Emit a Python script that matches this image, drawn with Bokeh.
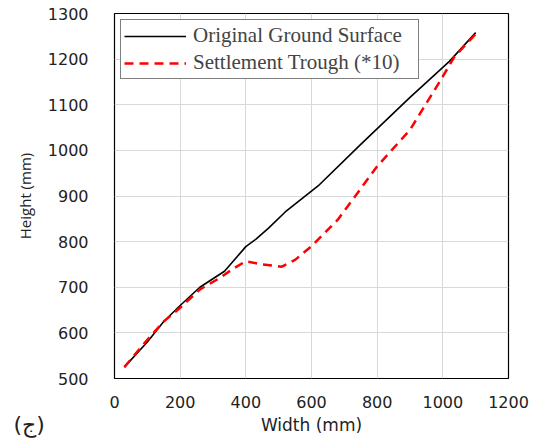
from bokeh.plotting import figure
from bokeh.models import Legend, LegendItem, FixedTicker, Label
from bokeh.embed import file_html
from bokeh.resources import INLINE

ground_x = [30, 100, 150, 200, 260, 335, 400, 430, 470, 520, 620, 750, 900, 1020, 1100]
ground_y = [525, 580, 625, 660, 700, 735, 789, 805, 830, 865, 922, 1013, 1116, 1195, 1258]

trough_x = [30, 100, 150, 200, 260, 320, 360, 400, 450, 510, 550, 600, 680, 800, 900, 990, 1035, 1100]
trough_y = [525, 585, 625, 655, 695, 720, 740, 757, 750, 745, 760, 790, 848, 965, 1045, 1150, 1205, 1255]

x_ticks = [0, 200, 400, 600, 800, 1000, 1200]
y_ticks = [500, 600, 700, 800, 900, 1000, 1100, 1200, 1300]

panel_label = "(ج)"

p = figure(width=539, height=439, output_backend="svg", toolbar_location=None,
           x_range=(0, 1200), y_range=(500, 1300),
           min_border_left=114, min_border_right=28, min_border_top=13, min_border_bottom=61)

p.outline_line_color = "black"
p.outline_line_width = 1.2

for ax in (p.xaxis, p.yaxis):
    ax.axis_line_color = None
    ax.major_tick_line_color = None
    ax.minor_tick_line_color = None
    ax.major_label_text_font = "DejaVu Sans"
    ax.major_label_text_font_size = "16px"
    ax.major_label_text_color = "#222222"
    ax.axis_label_text_font = "DejaVu Sans"
    ax.axis_label_text_font_style = "normal"
    ax.axis_label_text_color = "#222222"

p.xaxis.ticker = FixedTicker(ticks=x_ticks)
p.yaxis.ticker = FixedTicker(ticks=y_ticks)
p.xaxis.major_label_standoff = 11
p.yaxis.major_label_standoff = 20
p.xaxis.axis_label = "Width (mm)"
p.yaxis.axis_label = "Height (mm)"
p.xaxis.axis_label_text_font_size = "17px"
p.yaxis.axis_label_text_font_size = "15px"
p.xaxis.axis_label_standoff = 4
p.yaxis.axis_label_standoff = 10
p.yaxis.axis_label_text_font = "Open Sans"

p.xgrid.grid_line_color = "#d9d9d9"
p.ygrid.grid_line_color = "#d9d9d9"
p.xgrid.ticker = FixedTicker(ticks=x_ticks)
p.ygrid.ticker = FixedTicker(ticks=y_ticks)

r1 = p.line(ground_x, ground_y, line_color="black", line_width=1.6)
r2 = p.line(trough_x, trough_y, line_color="red", line_width=2.5, line_dash="9 6")

legend = Legend(items=[LegendItem(label="Original Ground Surface", renderers=[r1]),
                       LegendItem(label="Settlement Trough (*10)", renderers=[r2])],
                location="top_left")
legend.label_text_font = "Liberation Serif"
legend.label_text_font_size = "21px"
legend.border_line_color = "black"
legend.border_line_width = 1
legend.glyph_width = 62
legend.glyph_height = 22
legend.label_height = 22
legend.label_width = 222
legend.spacing = 2
legend.padding = 3
legend.margin = 6
legend.label_standoff = 7
legend.background_fill_alpha = 1
p.add_layout(legend)

# panel label lives in the right side panel (not clipped) and is shifted to the bottom-left corner
lab = Label(x=-495, y=-58, x_units="screen", y_units="screen", text=panel_label,
            text_font_size="22px", text_font="DejaVu Sans", text_color="#222222")
p.add_layout(lab, "right")

open("out.html", "w").write(file_html(p, INLINE))
